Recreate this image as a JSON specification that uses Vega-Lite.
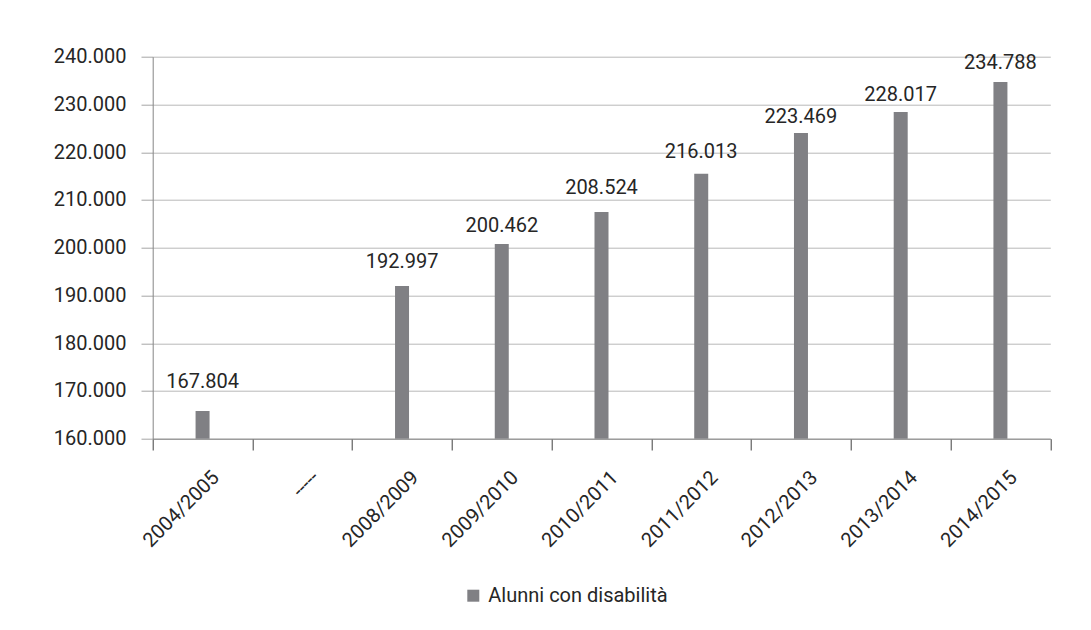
{
  "$schema": "https://vega.github.io/schema/vega-lite/v6.json",
  "width": 897.6,
  "height": 382,
  "autosize": "none",
  "padding": {"left": 152.7, "top": 56.7, "right": 40.7, "bottom": 191.3},
  "background": "white",
  "config": {
    "locale": {"number": {"decimal": ",", "thousands": ".", "grouping": [3], "currency": ["€", ""]}},
    "view": {"stroke": null},
    "font": "Roboto"
  },
  "data": {
    "values": [
      {"anno": "2004/2005", "alunni": 165800, "etichetta": 167804},
      {"anno": "-----", "alunni": null, "etichetta": null},
      {"anno": "2008/2009", "alunni": 192000, "etichetta": 192997},
      {"anno": "2009/2010", "alunni": 200800, "etichetta": 200462},
      {"anno": "2010/2011", "alunni": 207500, "etichetta": 208524},
      {"anno": "2011/2012", "alunni": 215500, "etichetta": 216013},
      {"anno": "2012/2013", "alunni": 224000, "etichetta": 223469},
      {"anno": "2013/2014", "alunni": 228400, "etichetta": 228017},
      {"anno": "2014/2015", "alunni": 234700, "etichetta": 234788}
    ]
  },
  "encoding": {
    "x": {
      "field": "anno",
      "type": "nominal",
      "sort": null,
      "scale": {
        "domain": ["2004/2005", "-----", "2008/2009", "2009/2010", "2010/2011", "2011/2012", "2012/2013", "2013/2014", "2014/2015"],
        "paddingInner": 0,
        "paddingOuter": 0
      },
      "axis": {
        "title": null,
        "labelAngle": -45,
        "labelAlign": "right",
        "labelBaseline": "middle",
        "tickBand": "extent",
        "tickSize": 11.3,
        "labelPadding": 24,
        "labelOffset": 13,
        "domainColor": "#868686",
        "tickColor": "#404040",
        "labelFont": "Roboto",
        "labelFontSize": 20,
        "labelColor": "#262626",
        "grid": false
      }
    }
  },
  "layer": [
    {
      "mark": {"type": "bar", "size": 14, "clip": true},
      "encoding": {
        "y": {
          "field": "alunni",
          "type": "quantitative",
          "scale": {"domain": [160000, 240000], "nice": false, "zero": false},
          "axis": {
            "title": null,
            "values": [160000, 170000, 180000, 190000, 200000, 210000, 220000, 230000, 240000],
            "format": ",d",
            "tickSize": 11.7,
            "labelPadding": 15,
            "grid": true,
            "gridColor": "#b9b9b9",
            "domainColor": "#868686",
            "tickColor": "#a6a6a6",
            "labelFont": "Roboto",
            "labelFontSize": 20,
            "labelColor": "#262626"
          }
        },
        "color": {
          "datum": "Alunni con disabilità",
          "scale": {"range": ["#808084"]},
          "legend": {
            "orient": "none",
            "legendX": 310.6,
            "legendY": 529,
            "title": null,
            "symbolType": "square",
            "symbolSize": 144,
            "symbolStrokeWidth": 0,
            "symbolOpacity": 1,
            "labelFont": "Roboto",
            "labelFontSize": 20,
            "labelLimit": 400,
            "labelColor": "#262626",
            "labelOffset": 5,
            "padding": 0
          }
        }
      }
    },
    {
      "mark": {"type": "text", "dy": -19, "fontSize": 20, "font": "Roboto", "color": "#262626", "baseline": "middle"},
      "encoding": {
        "y": {"field": "etichetta", "type": "quantitative"},
        "text": {"field": "etichetta", "type": "quantitative", "format": ",d"}
      }
    }
  ]
}
